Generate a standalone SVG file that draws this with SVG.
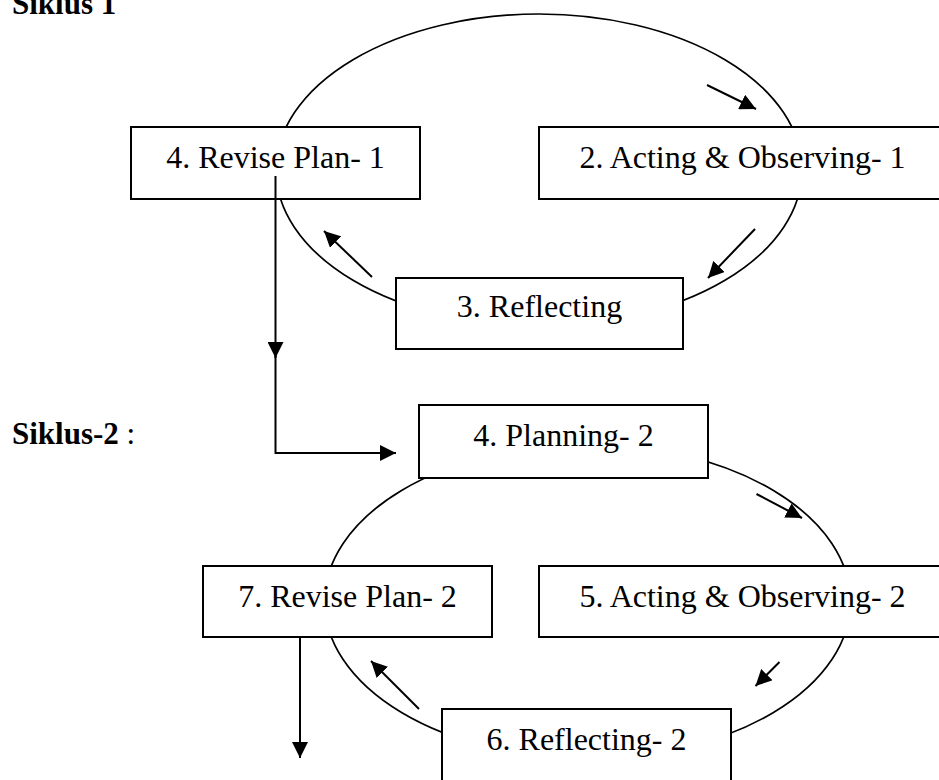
<svg xmlns="http://www.w3.org/2000/svg" width="939" height="780" viewBox="0 0 939 780">
<style>
.bg{fill:#fff}
.cyc{fill:none;stroke:#000;stroke-width:1.7}
.box{fill:#fff;stroke:#000;stroke-width:2}
.lbl{font-family:"Liberation Serif","Times New Roman",serif;font-size:32px;fill:#000;text-anchor:middle}
.ttl{font-family:"Liberation Serif","Times New Roman",serif;font-size:31px;font-weight:bold;fill:#000}
.con{fill:none;stroke:#000;stroke-width:2}
</style>
<defs>
<marker id="ah" viewBox="0 0 16 16" markerWidth="16" markerHeight="16" refX="16" refY="8" orient="auto" markerUnits="userSpaceOnUse">
<path d="M0,0 L16,8 L0,16 z" fill="#000"/>
</marker>
</defs>
<rect class="bg" x="0" y="0" width="939" height="780"/>
<text class="ttl" x="12" y="14">Siklus 1</text>
<text class="ttl" x="12" y="444">Siklus-2 <tspan font-weight="normal">:</tspan></text>
<g id="cycles">
<ellipse class="cyc" cx="539" cy="170" rx="263" ry="156"/>
<ellipse class="cyc" cx="587.5" cy="601.5" rx="263" ry="157"/>
</g>
<g id="connectors">
<line class="con" x1="707" y1="85" x2="756" y2="109" marker-end="url(#ah)"/>
<line class="con" x1="755" y1="229" x2="708" y2="278" marker-end="url(#ah)"/>
<line class="con" x1="372" y1="277" x2="324" y2="231" marker-end="url(#ah)"/>
<path class="con" d="M275.5,176 V358" marker-end="url(#ah)"/>
<path class="con" d="M275.5,355 V453 H396" marker-end="url(#ah)"/>
<line class="con" x1="756.5" y1="494" x2="802" y2="518" marker-end="url(#ah)"/>
<line class="con" x1="779.5" y1="662" x2="755.5" y2="686" marker-end="url(#ah)"/>
<line class="con" x1="419" y1="709" x2="371" y2="661" marker-end="url(#ah)"/>
<line class="con" x1="300" y1="637" x2="300" y2="758" marker-end="url(#ah)"/>
</g>
<g id="n-revise1">
<rect class="box" x="131" y="127" width="289" height="72"/>
<text class="lbl" x="275.5" y="168">4. Revise Plan- 1</text>
</g>
<g id="n-acting1">
<rect class="box" x="539" y="127" width="407" height="72"/>
<text class="lbl" x="742.5" y="168">2. Acting &amp; Observing- 1</text>
</g>
<g id="n-reflecting1">
<rect class="box" x="396" y="278" width="287" height="71"/>
<text class="lbl" x="539.5" y="317">3. Reflecting</text>
</g>
<g id="n-planning2">
<rect class="box" x="419" y="405" width="289" height="73"/>
<text class="lbl" x="563.5" y="446">4. Planning- 2</text>
</g>
<g id="n-revise2">
<rect class="box" x="203" y="566" width="289" height="71"/>
<text class="lbl" x="347.5" y="607">7. Revise Plan- 2</text>
</g>
<g id="n-acting2">
<rect class="box" x="539" y="566" width="407" height="71"/>
<text class="lbl" x="742.5" y="607">5. Acting &amp; Observing- 2</text>
</g>
<g id="n-reflecting2">
<rect class="box" x="442" y="709" width="289" height="90"/>
<text class="lbl" x="586.5" y="750">6. Reflecting- 2</text>
</g>
<path class="con" d="M275.5,176 V199"/>
</svg>
